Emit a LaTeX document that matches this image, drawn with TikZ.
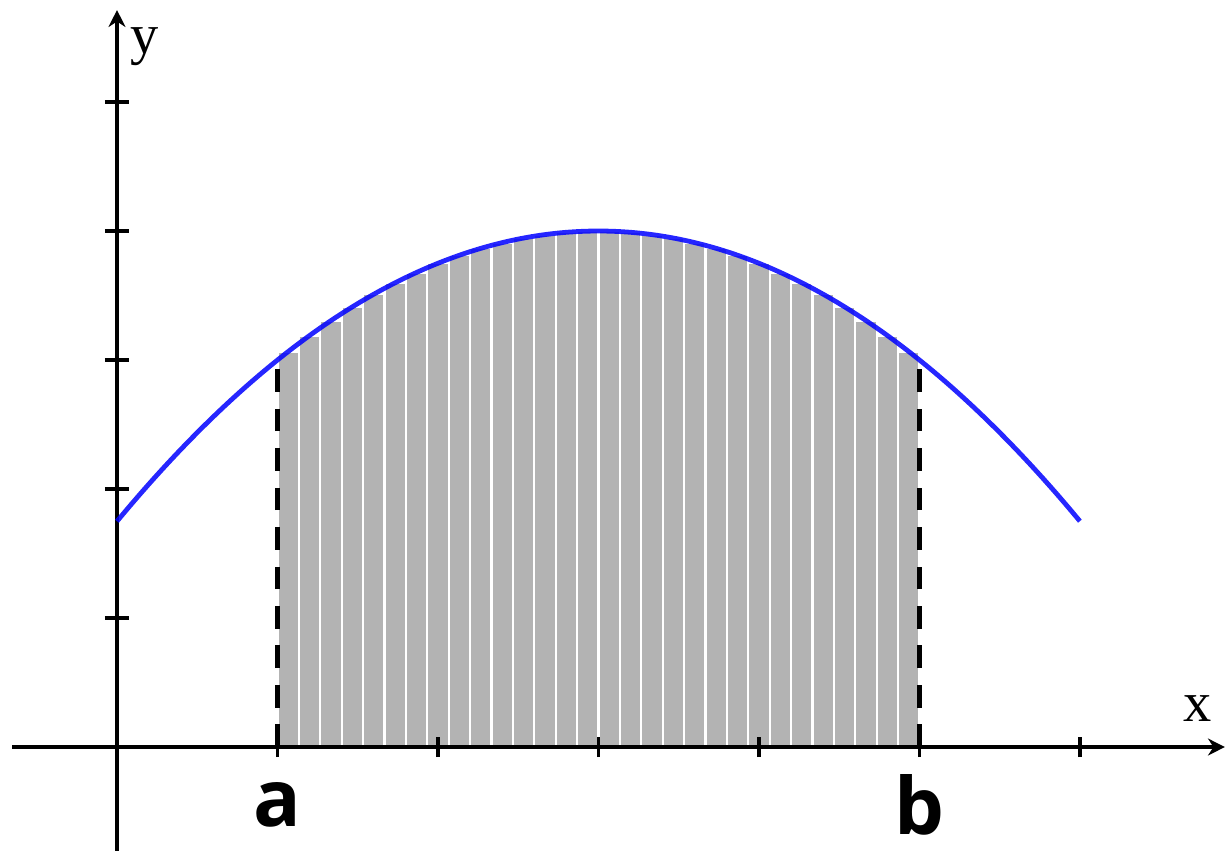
\documentclass[tikz,border=0pt]{standalone}
\usepackage{fontspec}
\setmainfont{Liberation Serif}
\newfontfamily\ablfont{Open Sans}
\usepackage{tikz}
\usetikzlibrary{arrows.meta,positioning}
\definecolor{cBar}{HTML}{b3b3b3}
\definecolor{cCurve}{HTML}{0000ff}
\tikzset{
  axisline/.style={-{Stealth[length=6pt,width=6pt]},line width=1.4pt,black},
  tickmark/.style={line width=1.4pt,black},
  bar/.style={fill=cBar,draw=white,line width=0.8pt},
  curve/.style={line width=1.7pt,cCurve,draw opacity=0.85},
  bound/.style={line width=1.8pt,black,dash pattern=on 8pt off 6pt},
  axlabel/.style={font=\fontsize{20}{22}\selectfont},
  ablabel/.style={font=\ablfont\bfseries\fontsize{28}{30}\selectfont},
}

\begin{document}
\begin{tikzpicture}[x=2cm,y=1.6075cm]
  \useasboundingbox (-0.729,-0.806) rectangle (6.916,5.791);
  % bars (midpoint heights)
  \foreach \i in {0,...,29}{
     \pgfmathsetmacro\xl{1+\i*4/30}
     \pgfmathsetmacro\xr{1+(\i+1)*4/30}
     \pgfmathsetmacro\h{4-0.25*((\xl+\xr)/2-3)^2}
     \draw[bar] (\xl,0) rectangle (\xr,\h);
  }
  % axes
  \coordinate (xs) at (-0.654,0);
  \coordinate (xe) at (6.903,0);
  \coordinate (ys) at (0,-0.806);
  \coordinate (ye) at (0,5.713);
  \draw[axisline] (xs) -- (xe);
  \draw[axisline] (ys) -- (ye);
  \foreach \i in {1,...,6}
     \draw[tickmark] (\i,0) ++(0,-0.125cm) -- ++(0,0.25cm);
  \foreach \i in {1,...,5}
     \draw[tickmark] (0,\i) ++(-0.15cm,0) -- ++(0.3cm,0);
  % curve
  \draw[curve] plot[domain=0:6,samples=80,smooth] (\x,{4-0.25*(\x-3)^2});
  % limits
  \coordinate (a0) at (1,0);
  \coordinate (a1) at (1,3);
  \coordinate (b0) at (5,0);
  \coordinate (b1) at (5,3);
  \draw[bound] (a0) -- (a1);
  \draw[bound] (b0) -- (b1);
  \node[axlabel] (ylab) at (0.174,5.43) {y};
  \node[axlabel] (xlab) at (6.735,0.295) {x};
  \node[ablabel] (alab) at (1,-0.45) {a};
  \node[ablabel] (blab) at (5,-0.45) {b};
\end{tikzpicture}
\end{document}
